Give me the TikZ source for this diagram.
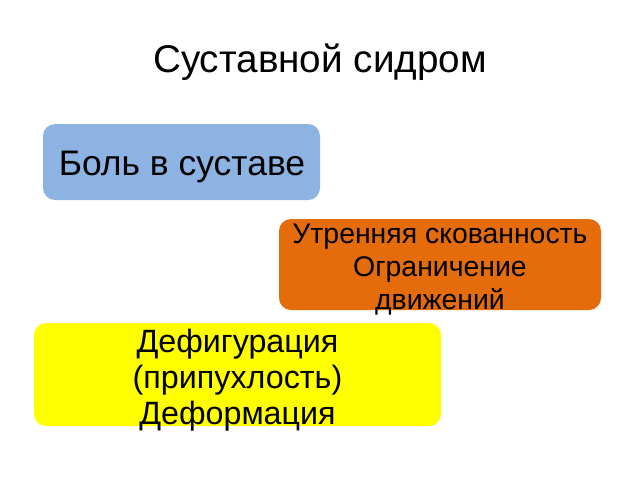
\documentclass[tikz,border=0pt]{standalone}
\usepackage{fontspec}
\setmainfont{Liberation Sans}
\usetikzlibrary{positioning}
\definecolor{boxblue}{HTML}{8DB3E2}
\definecolor{boxorange}{HTML}{E46C0A}
\definecolor{boxyellow}{HTML}{FFFF00}
\tikzset{
	sym box/.style={
		rounded corners=9pt,
		inner sep=0pt},
	sym text/.style={
		inner sep=0pt,
		align=center,
		text=black},
	big text/.style={font=\fontsize{26.6}{32}\selectfont},
	mid text/.style={font=\fontsize{24.2}{27}\selectfont},
	small text/.style={font=\fontsize{21.3}{24.75}\selectfont}
}
\begin{document}
\begin{tikzpicture}[x=0.75pt,y=-0.75pt]
	\useasboundingbox (0,0) rectangle (640,480);
	\node[anchor=base, inner sep=0pt, font=\fontsize{29}{34}\selectfont] (title) at (320,72) {Суставной сидром};
	% boxes
	\node[sym box, fill=boxblue,
		minimum width=207.75pt, minimum height=57pt] (pain) at (181.5,162) {};
	\node[sym box, fill=boxorange,
		minimum width=241.5pt, minimum height=68.25pt] (stiff) at (440,264.5) {};
	\node[sym box, fill=boxyellow,
		minimum width=305.25pt, minimum height=77.25pt] (deform) at (237.5,374.5) {};
	% texts
	\node[sym text, big text, anchor=base] (pain text) at (182,175) {Боль в суставе};
	\node[sym text, small text] (stiff text) at (440,270) {Утренняя скованность\\Ограничение\\движений};
	\node[sym text, mid text] (deform text) at (237.5,380) {Дефигурация\\(припухлость)\\Деформация};
\end{tikzpicture}
\end{document}
